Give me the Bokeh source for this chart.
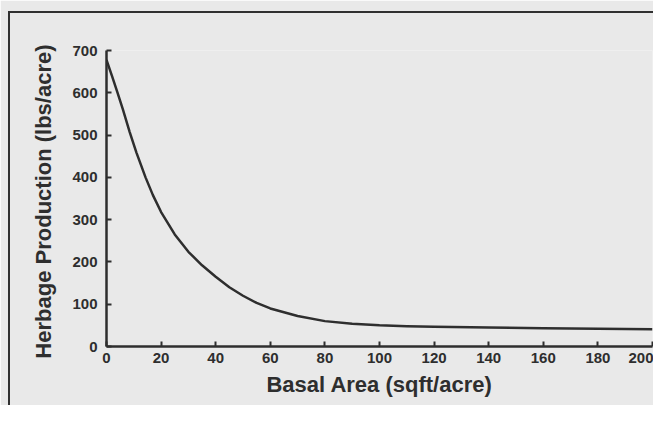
from bokeh.plotting import figure
from bokeh.models import Range1d, FixedTicker, InlineStyleSheet
from bokeh.embed import file_html
from bokeh.resources import INLINE

# Data
basal_area = [0, 2, 4, 6, 8.5, 11, 14.3, 17, 20, 25, 30, 35, 40, 45, 50, 55,
              60, 70, 80, 90, 100, 110, 120, 140, 160, 180, 200]
herbage = [678, 640, 601, 561, 507, 458, 400, 358, 318, 265, 224, 192, 165,
           140, 120, 103, 90, 72, 60, 54, 50, 48, 47, 45, 43, 42, 41]
x_ticks = [0, 20, 40, 60, 80, 100, 120, 140, 160, 180, 200]
y_ticks = [0, 100, 200, 300, 400, 500, 600, 700]

BG = "#e9e9e9"
INK = "#2e2e2e"
FONT = "Liberation Sans"

p = figure(width=653, height=405, output_backend="svg", toolbar_location=None,
           x_range=Range1d(0, 200), y_range=Range1d(0, 700),
           min_border_left=106, min_border_right=1, min_border_top=50,
           min_border_bottom=59)
p.background_fill_color = BG
p.border_fill_color = BG
p.outline_line_color = None
p.xgrid.visible = False
p.ygrid.visible = False

p.line(basal_area, herbage, line_color=INK, line_width=2.5,
       line_join="round")

for ax in (p.xaxis[0], p.yaxis[0]):
    ax.axis_line_color = INK
    ax.axis_line_width = 2.5
    ax.major_tick_line_color = INK
    ax.major_tick_line_width = 2
    ax.major_tick_in = 5
    ax.major_tick_out = 0
    ax.minor_tick_line_color = None
    ax.major_label_text_font = FONT
    ax.major_label_text_font_style = "bold"
    ax.major_label_text_font_size = "15px"
    ax.major_label_text_color = INK
    ax.axis_label_text_font = FONT
    ax.axis_label_text_font_style = "bold"
    ax.axis_label_text_font_size = "22px"
    ax.axis_label_text_color = INK

p.xaxis[0].ticker = FixedTicker(ticks=x_ticks)
p.yaxis[0].ticker = FixedTicker(ticks=y_ticks)
p.xaxis.axis_label = "Basal Area (sqft/acre)"
p.yaxis.axis_label = "Herbage Production  (lbs/acre)"
p.xaxis.major_label_standoff = 6
p.yaxis.major_label_standoff = 9
p.xaxis.axis_label_standoff = 6
p.yaxis.axis_label_standoff = 13

# outer scanned-page frame (left and top edges visible; the rest runs off)
frame_css = InlineStyleSheet(css="""
:host { position: relative; overflow: hidden; }
:host::after {
  content: "";
  position: absolute;
  left: 8px; top: 11px;
  width: 1200px; height: 1200px;
  border-left: 2px solid #303030;
  border-top: 2px solid #303030;
  pointer-events: none;
  z-index: 10;
}
""")
p.stylesheets = [frame_css]

open("out.html", "w").write(file_html(p, INLINE))
